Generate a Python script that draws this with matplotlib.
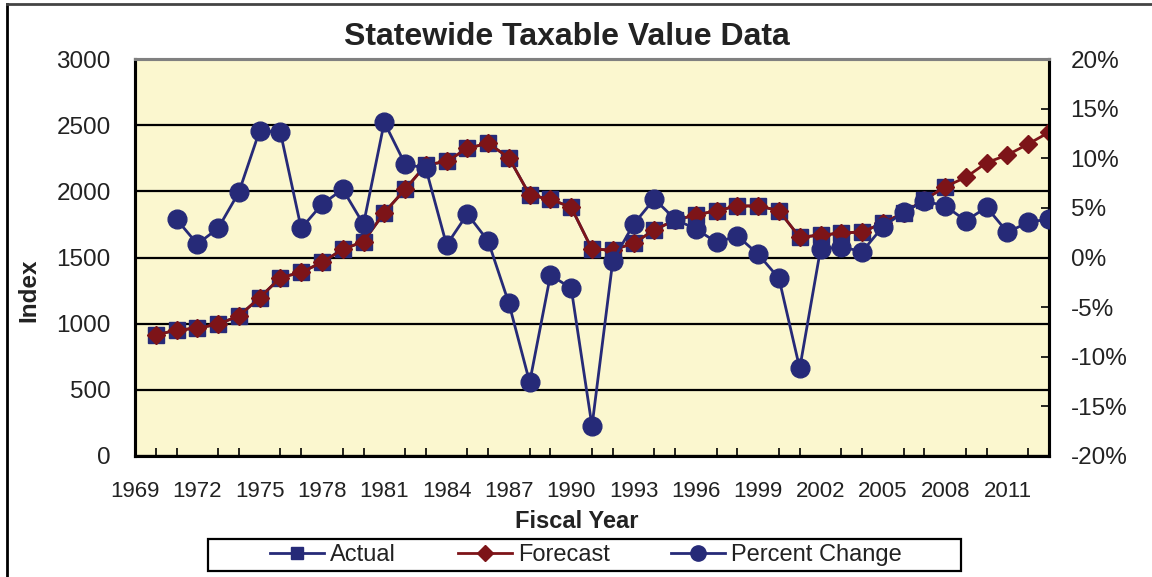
import matplotlib
matplotlib.use("Agg")
import matplotlib.pyplot as plt
from matplotlib.lines import Line2D
from matplotlib.patches import Rectangle
from matplotlib.ticker import FixedLocator, FuncFormatter

plt.rcParams['font.family'] = ['Liberation Sans', 'DejaVu Sans']

years = list(range(1970, 2014))
actual_years = list(range(1970, 2009))
actual = [914, 952, 965, 997, 1058, 1196, 1348, 1388, 1463, 1562,
          1620, 1839, 2015, 2199, 2226, 2325, 2363, 2254, 1972, 1940,
          1879, 1562, 1557, 1607, 1708, 1783, 1821, 1854, 1889, 1890,
          1854, 1652, 1670, 1683, 1695, 1758, 1839, 1935, 2035]
forecast = actual + [2106, 2217, 2275, 2358, 2446]
pct_years = list(range(1971, 2014))
pct_change = [3.85, 1.36, 2.94, 6.57, 12.78, 12.62, 2.94, 5.36, 6.87, 3.35,
              13.63, 9.42, 8.99, 1.26, 4.38, 1.66, -4.62, -12.58, -1.76, -3.11,
              -16.99, -0.35, 3.35, 5.90, 3.85, 2.87, 1.53, 2.17, 0.33, -2.10,
              -11.17, 0.83, 1.09, 0.58, 3.10, 4.55, 5.70, 5.19, 3.71, 5.06,
              2.54, 3.55, 3.88]
xtick_labels = list(range(1969, 2012, 3))
left_ticks = [0, 500, 1000, 1500, 2000, 2500, 3000]
right_ticks = [-20, -15, -10, -5, 0, 5, 10, 15, 20]

navy = '#262A78'
red = '#7D1418'
bg = '#FBF7CF'
txt = '#222222'

W, H = 1152, 577
fig = plt.figure(figsize=(W/100, H/100), dpi=100)
ax = fig.add_axes([135/W, 1-456/H, (1049-135)/W, (456-59)/H])
ax.set_facecolor(bg)
ax.set_xlim(1969, 2013)
ax.set_ylim(0, 3000)
ax.yaxis.set_major_locator(FixedLocator(left_ticks))
ax.grid(axis='y', color='black', linewidth=1.6, zorder=1)
ax.set_axisbelow(True)

ax.plot(actual_years, actual, color=navy, lw=2, marker='s', ms=11,
        mfc=navy, mec=navy, zorder=3, label='Actual')
ax.plot(years, forecast, color=red, lw=2, marker='D', ms=9,
        mfc=red, mec=red, zorder=4, label='Forecast')

ax2 = ax.twinx()
ax2.set_ylim(-20, 20)
ax2.plot(pct_years, pct_change, color=navy, lw=2, marker='o', ms=13.5,
         mfc=navy, mec=navy, zorder=5, label='Percent Change')
ax2.yaxis.set_major_locator(FixedLocator(right_ticks))
ax2.yaxis.set_major_formatter(FuncFormatter(lambda v, p: f"{int(v)}%"))

# x ticks
ax.set_xticks(xtick_labels)
ax.set_xticklabels([str(y) for y in xtick_labels])
ax.set_xticks(years, minor=True)
ax.tick_params(axis='x', which='major', direction='in', length=0, labelsize=16, pad=18, labelcolor=txt)
ax.tick_params(axis='x', which='minor', direction='in', length=6, width=1.2, color='black')
ax.tick_params(axis='y', direction='in', length=0, labelsize=17.5, pad=17.5, labelcolor=txt)
ax2.tick_params(axis='y', direction='in', length=6, width=1.2, labelsize=17.5, pad=15.5,
                labelcolor=txt, color='black')

for a in (ax, ax2):
    for s in ('left', 'bottom', 'right'):
        a.spines[s].set_linewidth(2.2)
        a.spines[s].set_color('black')
    a.spines['top'].set_linewidth(2.2)
    a.spines['top'].set_color('#808080')

fig.text(29/W, 1-290/H, 'Index', rotation=90, ha='center', va='center',
         fontsize=17.5, fontweight='bold', color=txt)
fig.text(577/W, 1-521/H, 'Fiscal Year', ha='center', va='center',
         fontsize=17, fontweight='bold', color=txt)
fig.text(567/W, 1-37/H, 'Statewide Taxable Value Data', ha='center', va='center',
         fontsize=23, fontweight='bold', color=txt)

handles = [Line2D([], [], color=navy, lw=2, marker='s', ms=9, mfc=navy, mec=navy),
           Line2D([], [], color=red, lw=2, marker='D', ms=8, mfc=red, mec=red),
           Line2D([], [], color=navy, lw=2, marker='o', ms=11, mfc=navy, mec=navy)]
leg = fig.legend(handles, ['Actual', 'Forecast', 'Percent Change'], ncol=3,
                 loc='center', bbox_to_anchor=(586/W, 1-555/H),
                 fontsize=17, frameon=False,
                 handlelength=2.3, handletextpad=0.25, columnspacing=2.6,
                 borderpad=0.2, borderaxespad=0)
for t in leg.get_texts():
    t.set_color(txt)
fig.add_artist(Rectangle((208/W, 1-571/H), (961-208)/W, (571-539)/H,
                         transform=fig.transFigure, fill=False,
                         edgecolor='black', lw=1.6))

# outer chart border (top and left)
fig.add_artist(Line2D([7/W, 7/W], [0, 1-4/H], transform=fig.transFigure, color='black', lw=2))
fig.add_artist(Line2D([7/W, 1], [1-4/H, 1-4/H], transform=fig.transFigure, color='#444444', lw=2))

fig.savefig('out.png', dpi=100)
